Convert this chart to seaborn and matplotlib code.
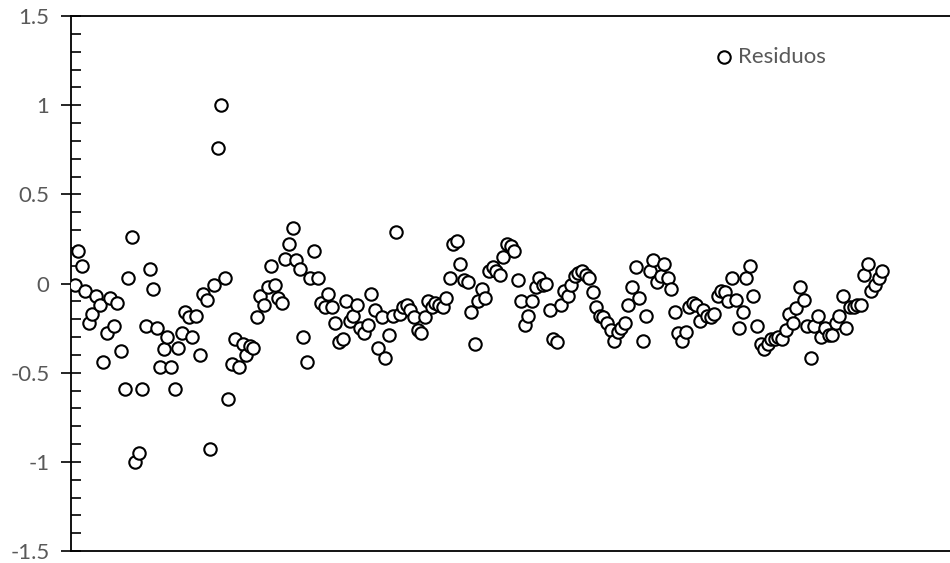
import numpy as np
import pandas as pd
import matplotlib
matplotlib.use("Agg")
import matplotlib.pyplot as plt
from matplotlib.ticker import MultipleLocator, FixedLocator
import seaborn as sns

# Residual values, one per observation (observation index starts at 1)
residuos = [
    -0.01, 0.18, 0.10, -0.04, -0.22, -0.17, -0.07, -0.12, -0.44, -0.28,
    -0.08, -0.24, -0.11, -0.38, -0.59, 0.03, 0.26, -1.00, -0.95, -0.59,
    -0.24, 0.08, -0.03, -0.25, -0.47, -0.37, -0.30, -0.47, -0.59, -0.36,
    -0.28, -0.16, -0.19, -0.30, -0.18, -0.40, -0.06, -0.09, -0.93, -0.01,
    0.76, 1.00, 0.03, -0.65, -0.45, -0.31, -0.47, -0.34, -0.40, -0.35,
    -0.36, -0.19, -0.07, -0.12, -0.02, 0.10, -0.01, -0.08, -0.11, 0.14,
    0.22, 0.31, 0.13, 0.08, -0.30, -0.44, 0.03, 0.18, 0.03, -0.11,
    -0.13, -0.06, -0.13, -0.22, -0.33, -0.31, -0.10, -0.21, -0.18, -0.12,
    -0.25, -0.28, -0.23, -0.06, -0.15, -0.36, -0.19, -0.42, -0.29, -0.18,
    0.29, -0.17, -0.13, -0.12, -0.15, -0.19, -0.26, -0.28, -0.19, -0.10,
    -0.13, -0.11, -0.12, -0.13, -0.08, 0.03, 0.22, 0.24, 0.11, 0.02,
    0.01, -0.16, -0.34, -0.10, -0.03, -0.08, 0.07, 0.09, 0.07, 0.05,
    0.15, 0.22, 0.21, 0.18, 0.02, -0.10, -0.23, -0.18, -0.10, -0.02,
    0.03, -0.01, 0.00, -0.15, -0.31, -0.33, -0.12, -0.04, -0.07, -0.01,
    0.04, 0.06, 0.07, 0.05, 0.03, -0.05, -0.13, -0.18, -0.19, -0.22,
    -0.26, -0.32, -0.27, -0.25, -0.22, -0.12, -0.02, 0.09, -0.08, -0.32,
    -0.18, 0.07, 0.13, 0.01, 0.04, 0.11, 0.03, -0.03, -0.16, -0.28,
    -0.32, -0.27, -0.13, -0.11, -0.12, -0.21, -0.15, -0.18, -0.19, -0.17,
    -0.07, -0.04, -0.05, -0.10, 0.03, -0.09, -0.25, -0.16, 0.03, 0.10,
    -0.07, -0.24, -0.34, -0.37, -0.34, -0.31, -0.31, -0.30, -0.31, -0.26,
    -0.17, -0.22, -0.14, -0.02, -0.09, -0.24, -0.42, -0.24, -0.18, -0.30,
    -0.25, -0.29, -0.29, -0.22, -0.18, -0.07, -0.25, -0.13, -0.13, -0.12,
    -0.12, 0.05, 0.11, -0.04, -0.01, 0.03, 0.07,
]
observacion = list(range(1, len(residuos) + 1))

y_ticks = [-1.5, -1.0, -0.5, 0.0, 0.5, 1.0, 1.5]
y_tick_labels = ["-1.5", "-1", "-0.5", "0", "0.5", "1", "1.5"]

df = pd.DataFrame({"Observación": observacion, "Residuos": residuos})

sns.set_theme(style="white")
plt.rcParams["font.family"] = ["Lato", "DejaVu Sans"]

text_grey = "#595959"
label_size = 16
marker_area = 80

fig = plt.figure(figsize=(9.5, 5.63), dpi=100)
ax = fig.add_axes([71 / 950, 12 / 563, 1 - 71 / 950, (551 - 16) / 563])

sns.scatterplot(
    data=df, x="Observación", y="Residuos", ax=ax,
    marker="o", s=marker_area, facecolor="white", edgecolor="black",
    linewidth=1.5, label="Residuos", zorder=3,
)

ax.set_xlim(0, 246)
ax.set_ylim(-1.5, 1.5)
ax.set_xlabel("")
ax.set_ylabel("")
ax.set_xticks([])

ax.yaxis.set_major_locator(FixedLocator(y_ticks))
ax.set_yticklabels(y_tick_labels)
ax.yaxis.set_minor_locator(MultipleLocator(0.1))
ax.tick_params(axis="y", which="major", direction="inout", length=14,
               width=1.2, color="black", labelsize=label_size,
               labelcolor=text_grey, pad=8.5, left=True)
ax.tick_params(axis="y", which="minor", direction="in", length=7,
               width=1.2, color="black", left=True)

for side in ["left", "top", "bottom"]:
    ax.spines[side].set_visible(True)
    ax.spines[side].set_color("black")
    ax.spines[side].set_linewidth(1.3)
ax.spines["right"].set_visible(False)
ax.grid(False)

leg = ax.legend(loc="center left", bbox_to_anchor=(0.7335, 0.924), frameon=False,
                fontsize=label_size, handlelength=0.75, handletextpad=0.25,
                borderpad=0, borderaxespad=0, labelcolor=text_grey)
for handle in leg.legend_handles:
    handle.set_sizes([marker_area])
    handle.set_linewidth(1.5)

fig.savefig("out.png", dpi=100, facecolor="white")
